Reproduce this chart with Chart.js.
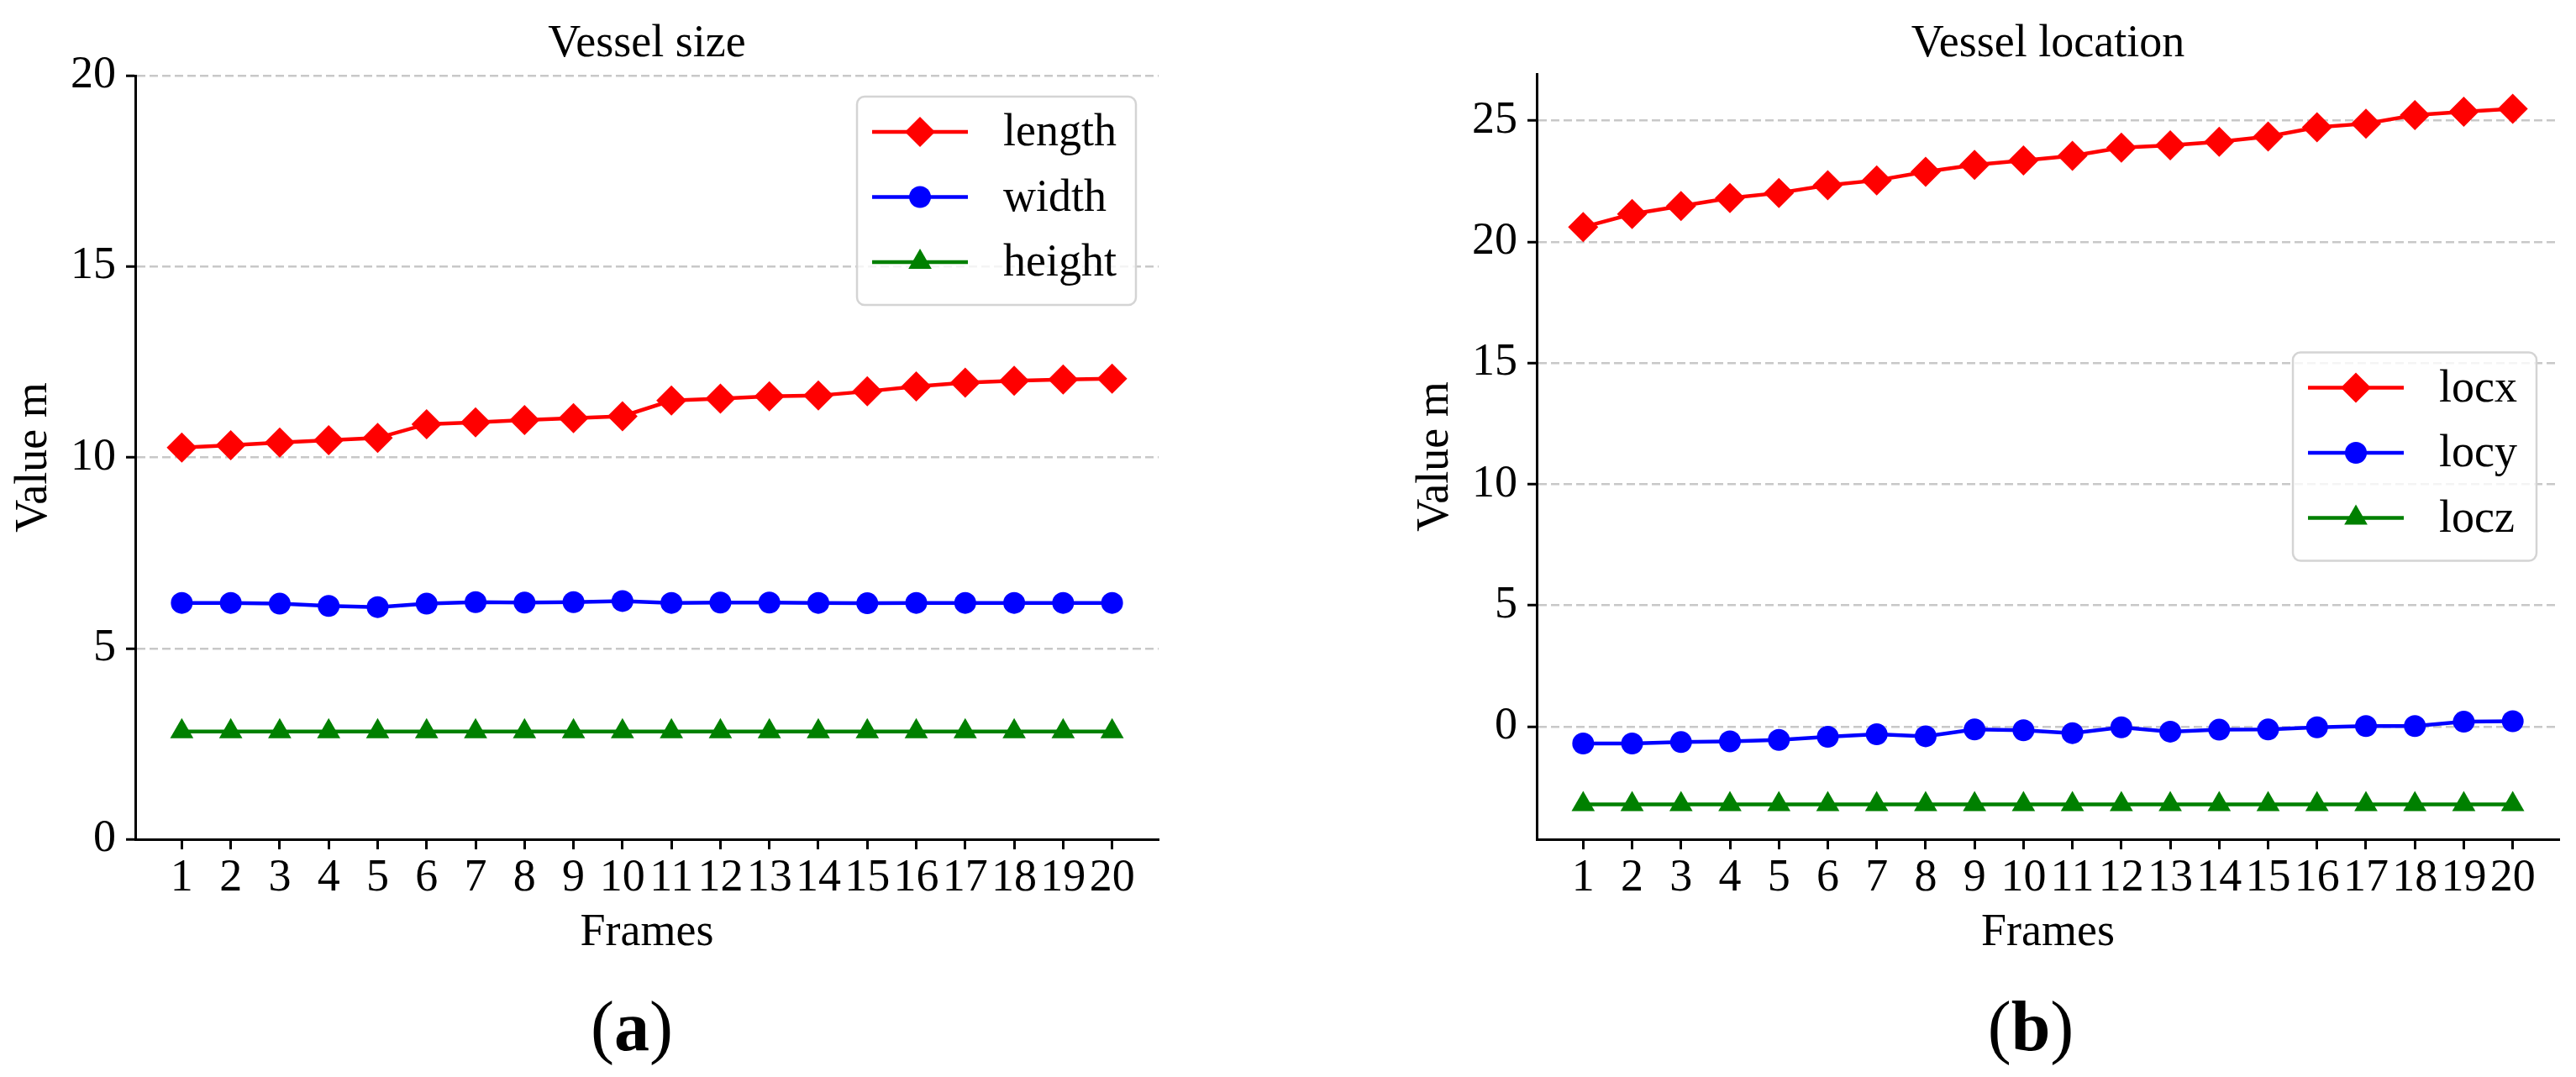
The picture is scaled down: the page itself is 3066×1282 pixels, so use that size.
<!DOCTYPE html>
<html lang="en">

<head>
	<meta charset="UTF-8">
	<title>Vessel size and location</title>
	<script src="https://cdn.jsdelivr.net/npm/chart.js"></script>
	<style>
		html, body { margin: 0; padding: 0; background: #fff; overflow: hidden; }
		body { width: 3066px; height: 1282px; position: relative; font-family: 'Liberation Serif', 'Times New Roman', serif; }
		.box { position: absolute; top: 0; height: 1150px; }
		.cap { position: absolute; top: 1180px; width: 200px; text-align: center; font-size: 84px; line-height: 1; color: #000; }
	</style>
</head>

<body>

	<div class="box" style="left:0;width:1420px"><canvas id="sizeChart"></canvas></div>
	<div class="box" style="left:1668px;width:1398px"><canvas id="locChart"></canvas></div>
	<div class="cap" style="left:652px">(<b>a</b>)</div>
	<div class="cap" style="left:2317px">(<b>b</b>)</div>

	<script>
		const frames = [1, 2, 3, 4, 5, 6, 7, 8, 9, 10, 11, 12, 13, 14, 15, 16, 17, 18, 19, 20];

		const lengthVals = [10.26, 10.32, 10.39, 10.45, 10.51, 10.87, 10.92, 10.98, 11.03, 11.08,
			11.49, 11.54, 11.60, 11.62, 11.73, 11.86, 11.96, 12.01, 12.04, 12.06];
		const widthVals = [6.19, 6.19, 6.17, 6.11, 6.08, 6.17, 6.21, 6.20, 6.21, 6.24,
			6.19, 6.20, 6.20, 6.19, 6.18, 6.19, 6.19, 6.19, 6.19, 6.19];
		const heightVals = [2.82, 2.82, 2.82, 2.82, 2.82, 2.82, 2.82, 2.82, 2.82, 2.82,
			2.82, 2.82, 2.82, 2.82, 2.82, 2.82, 2.82, 2.82, 2.82, 2.82];

		const locxVals = [20.61, 21.15, 21.48, 21.81, 22.02, 22.34, 22.54, 22.89, 23.18, 23.36,
			23.55, 23.89, 23.98, 24.13, 24.35, 24.73, 24.88, 25.23, 25.37, 25.49];
		const locyVals = [-0.70, -0.70, -0.64, -0.61, -0.55, -0.42, -0.32, -0.40, -0.12, -0.15,
			-0.27, -0.03, -0.21, -0.13, -0.12, -0.03, 0.02, 0.02, 0.20, 0.22];
		const loczVals = [-3.21, -3.21, -3.21, -3.21, -3.21, -3.21, -3.21, -3.21, -3.21, -3.21,
			-3.21, -3.21, -3.21, -3.21, -3.21, -3.21, -3.21, -3.21, -3.21, -3.21];

		// tick labels
		const sizeTicks = [0, 5, 10, 15, 20];
		const locTicks = [0, 5, 10, 15, 20, 25];

		const FONT = "'Liberation Serif', 'Times New Roman', serif";
		Chart.defaults.font.family = FONT;
		Chart.defaults.font.size = 54;
		Chart.defaults.color = '#000';

		function series(label, data, color, style, r) {
			return {
				label: label,
				data: data,
				borderColor: color,
				backgroundColor: color,
				borderWidth: 4.5,
				pointStyle: style,
				pointRadius: r,
				pointBorderWidth: 0,
				pointBackgroundColor: color,
				tension: 0,
				clip: false
			};
		}

		// title above the plot area + matplotlib-like legend box inside it
		const decorations = {
			id: 'decorations',
			afterDraw(chart, args, opts) {
				const ctx = chart.ctx;
				const area = chart.chartArea;
				ctx.save();
				ctx.font = '54px ' + FONT;
				ctx.fillStyle = '#000';
				ctx.textAlign = 'center';
				ctx.textBaseline = 'alphabetic';
				ctx.fillText(opts.title, (area.left + area.right) / 2, 67);

				const sets = chart.data.datasets;
				let tw = 0;
				sets.forEach(ds => { tw = Math.max(tw, ctx.measureText(ds.label).width); });
				const w = 174 + tw + 23, h = 248;
				const x = area.right - 27 - w;
				const y = opts.legendPos === 'center' ? (area.top + area.bottom) / 2 - h / 2 : area.top + 25;

				ctx.beginPath();
				ctx.roundRect(x, y, w, h, 9);
				ctx.fillStyle = 'rgba(255,255,255,0.8)';
				ctx.fill();
				ctx.lineWidth = 2.5;
				ctx.strokeStyle = '#d4d4d4';
				ctx.stroke();

				sets.forEach((ds, i) => {
					const cy = y + 42 + i * 77.5;
					ctx.beginPath();
					ctx.lineWidth = ds.borderWidth;
					ctx.strokeStyle = ds.borderColor;
					ctx.moveTo(x + 18, cy);
					ctx.lineTo(x + 132, cy);
					ctx.stroke();
					ctx.fillStyle = ds.backgroundColor;
					Chart.helpers.drawPoint(ctx, {
						pointStyle: ds.pointStyle, radius: ds.pointRadius, borderWidth: 0, rotation: 0
					}, x + 75, cy);
					ctx.fillStyle = '#000';
					ctx.textAlign = 'left';
					ctx.textBaseline = 'middle';
					ctx.fillText(ds.label, x + 174, cy + 2);
				});
				ctx.restore();
			}
		};

		function makeChart(id, datasets, yMin, yMax, yTicks, padTop, padRight, title, legendPos) {
			return new Chart(document.getElementById(id), {
				type: 'line',
				data: { labels: frames, datasets: datasets },
				plugins: [decorations],
				options: {
					responsive: true,
					maintainAspectRatio: false,
					animation: false,
					devicePixelRatio: 1,
					layout: { padding: { top: padTop, right: padRight, left: 0, bottom: 0 } },
					plugins: {
						legend: { display: false },
						tooltip: { enabled: false },
						decorations: { title: title, legendPos: legendPos }
					},
					scales: {
						x: {
							type: 'linear',
							bounds: 'data',
							min: 0.05,
							max: 20.95,
							afterFit(s) { s.height = 151; },
							afterBuildTicks(s) { s.ticks = frames.map(v => ({ value: v })); },
							ticks: { autoSkip: false, maxRotation: 0, padding: 2, color: '#000' },
							grid: { drawOnChartArea: false, drawTicks: true, tickLength: 12, tickWidth: 3, tickColor: '#000' },
							border: { display: true, color: '#000', width: 3 },
							title: { display: true, text: 'Frames', padding: { top: 0, bottom: 7 } }
						},
						y: {
							type: 'linear',
							bounds: 'data',
							min: yMin,
							max: yMax,
							afterFit(s) { s.width = 161; },
							afterBuildTicks(s) { s.ticks = yTicks.map(v => ({ value: v })); },
							ticks: { padding: 12, color: '#000' },
							grid: { color: '#c8c8c8', lineWidth: 2.5, tickLength: 11, tickWidth: 3, tickColor: '#000' },
							border: { display: true, color: '#000', width: 3, dash: [10, 5] },
							title: { display: true, text: 'Value m', padding: { top: 8, bottom: 0 } }
						}
					}
				}
			});
		}

		makeChart('sizeChart', [
			series('length', lengthVals, '#ff0000', 'rectRot', 18),
			series('width', widthVals, '#0000ff', 'circle', 13),
			series('height', heightVals, '#008000', 'triangle', 16)
		], 0, 20, sizeTicks, 90, 41, 'Vessel size', 'upper');

		makeChart('locChart', [
			series('locx', locxVals, '#ff0000', 'rectRot', 18),
			series('locy', locyVals, '#0000ff', 'circle', 13),
			series('locz', loczVals, '#008000', 'triangle', 16)
		], -4.65, 26.93, locTicks, 88, 20, 'Vessel location', 'center');
	</script>

</body>

</html>
